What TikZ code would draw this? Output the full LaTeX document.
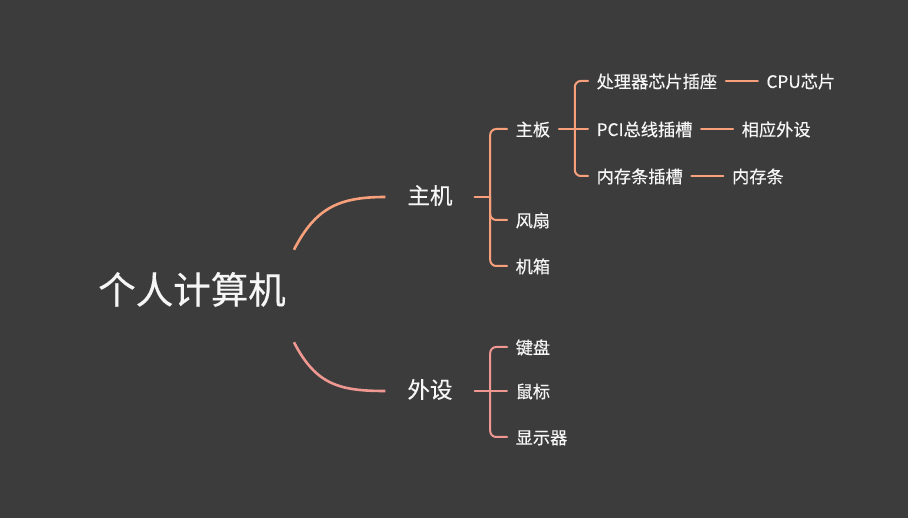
\documentclass[tikz,border=0pt]{standalone}
\usepackage{fontspec}
\setmainfont{Noto Sans CJK SC}[FakeBold=0.35]
\usetikzlibrary{positioning}
\definecolor{bg}{HTML}{3C3C3C}
\definecolor{warm}{HTML}{F8A07C}
\definecolor{rose}{HTML}{EE9891}
\definecolor{ink}{HTML}{F6F6F6}

\begin{document}
\begin{tikzpicture}[x=1pt,y=-1pt,
  txt/.style={text=ink, inner ysep=2pt, text height=1.4em, text depth=0em},
  leaf/.style={txt, font=\fontsize{17.2}{19}\selectfont, inner xsep=8.5pt, anchor=west},
  topic/.style={txt, font=\fontsize{22.5}{24}\selectfont, inner xsep=22pt},
  branch/.style={line width=2pt, rounded corners=6pt, line cap=round},
  mainarc/.style={line width=2.6pt}
]
% canvas
\fill[bg] (0,0) rectangle (908,518);

% root and first level
\node[txt, text height=1.55em, font=\fontsize{37.5}{40}\selectfont, inner xsep=8pt, minimum height=92pt] (root) at (192,296) {个人计算机};
\node[topic] (host) at (430,197) {主机};
\node[topic] (periph) at (430,391) {外设};

\draw[mainarc, warm] (root.north east) .. controls +(22,-43) and +(-45,0) .. (host.west);
\draw[mainarc, rose] (root.south east) .. controls +(22,43) and +(-45,0) .. (periph.west);

% children of the host
\node[leaf] (mb)   at (507,129) {主板};
\node[leaf] (fan)  at (507,220) {风扇};
\node[leaf] (case) at (507,266) {机箱};

\coordinate (jh) at ([xshift=15.5pt]host.east);
\draw[branch, warm] (host.east) -- (jh);
\foreach \c in {mb, fan, case} \draw[branch, warm] (jh) |- (\c.west);

% motherboard slots
\node[leaf] (s1) at (588,81)  {处理器芯片插座};
\node[leaf] (s2) at (588,129) {PCI总线插槽};
\node[leaf] (s3) at (588,176) {内存条插槽};

\coordinate (jm) at ([xshift=16pt]mb.east);
\draw[branch, warm] (mb.east) -- (jm);
\draw[branch, warm] (jm) |- (s1.west);
\draw[branch, warm] (jm) -- (s2.west);
\draw[branch, warm] (jm) |- (s3.west);

% what goes into each slot
\node[leaf, right=32pt of s1] (d1) {CPU芯片};
\node[leaf, right=32pt of s2] (d2) {相应外设};
\node[leaf, right=32pt of s3] (d3) {内存条};
\draw[branch, warm] (s1.east) -- (d1.west);
\draw[branch, warm] (s2.east) -- (d2.west);
\draw[branch, warm] (s3.east) -- (d3.west);

% peripherals
\node[leaf] (kb)    at (507,347) {键盘};
\node[leaf] (mouse) at (507,391) {鼠标};
\node[leaf] (disp)  at (507,437) {显示器};

\coordinate (jp) at ([xshift=15.5pt]periph.east);
\draw[branch, rose] (periph.east) -- (jp);
\draw[branch, rose] (jp) |- (kb.west);
\draw[branch, rose] (jp) -- (mouse.west);
\draw[branch, rose] (jp) |- (disp.west);
\end{tikzpicture}
\end{document}
